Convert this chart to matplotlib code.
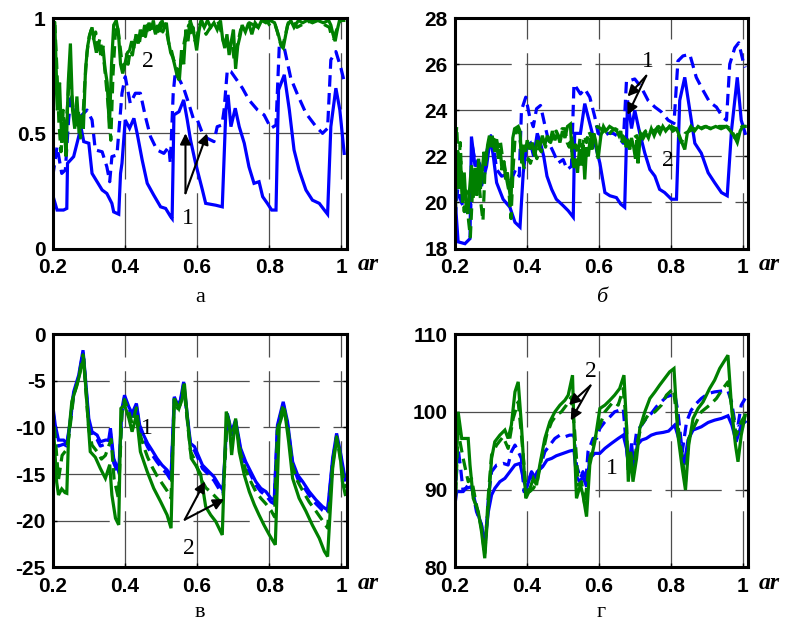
import numpy as np
import matplotlib
matplotlib.use("Agg")
import matplotlib.pyplot as plt

plt.rcParams["axes.unicode_minus"] = False

# ---- data (x = ar) ------------------------------------------------------
# panel а
A_BLUE_SOLID = [
    (0.200, 0.232), (0.212, 0.167), (0.230, 0.167), (0.239, 0.174), (0.241, 0.370),
    (0.258, 0.399), (0.272, 0.486), (0.278, 0.529), (0.286, 0.464), (0.300, 0.457),
    (0.309, 0.326), (0.323, 0.290), (0.337, 0.254), (0.350, 0.239), (0.364, 0.196),
    (0.369, 0.159), (0.383, 0.149), (0.388, 0.326), (0.392, 0.370), (0.401, 0.558),
    (0.413, 0.522), (0.425, 0.565), (0.434, 0.500), (0.448, 0.384), (0.462, 0.283),
    (0.480, 0.232), (0.499, 0.181), (0.513, 0.174), (0.527, 0.138), (0.531, 0.130),
    (0.536, 0.580), (0.550, 0.594), (0.563, 0.645), (0.573, 0.558), (0.582, 0.471),
    (0.596, 0.370), (0.615, 0.254), (0.624, 0.196), (0.652, 0.188), (0.670, 0.181),
    (0.680, 0.601), (0.686, 0.667), (0.694, 0.529), (0.706, 0.609), (0.717, 0.529),
    (0.731, 0.457), (0.744, 0.355), (0.758, 0.283), (0.772, 0.290), (0.782, 0.225),
    (0.795, 0.196), (0.807, 0.167), (0.819, 0.167), (0.826, 0.688), (0.842, 0.754),
    (0.856, 0.601), (0.869, 0.428), (0.883, 0.341), (0.902, 0.254), (0.920, 0.210),
    (0.939, 0.196), (0.953, 0.167), (0.962, 0.149), (0.971, 0.529), (0.985, 0.696),
    (0.996, 0.601), (1.008, 0.413),
]
A_BLUE_DASH = [
    (0.200, 0.312), (0.212, 0.442), (0.225, 0.326), (0.235, 0.341), (0.244, 0.558),
    (0.250, 0.652), (0.263, 0.558), (0.276, 0.572), (0.295, 0.601), (0.309, 0.558),
    (0.318, 0.428), (0.337, 0.420), (0.350, 0.355), (0.358, 0.290), (0.364, 0.399),
    (0.378, 0.406), (0.392, 0.674), (0.401, 0.746), (0.415, 0.630), (0.429, 0.674),
    (0.443, 0.674), (0.457, 0.572), (0.471, 0.486), (0.489, 0.428), (0.508, 0.413),
    (0.522, 0.442), (0.526, 0.370), (0.534, 0.674), (0.540, 0.768), (0.554, 0.725),
    (0.563, 0.696), (0.577, 0.630), (0.591, 0.558), (0.601, 0.558), (0.615, 0.500),
    (0.629, 0.478), (0.647, 0.464), (0.656, 0.529), (0.669, 0.536), (0.675, 0.601),
    (0.684, 0.775), (0.694, 0.768), (0.707, 0.739), (0.726, 0.696), (0.744, 0.645),
    (0.768, 0.601), (0.786, 0.580), (0.805, 0.522), (0.819, 0.536), (0.828, 0.877),
    (0.842, 0.870), (0.860, 0.739), (0.879, 0.667), (0.902, 0.587), (0.930, 0.529),
    (0.948, 0.500), (0.962, 0.522), (0.971, 0.819), (0.985, 0.855), (0.999, 0.783),
    (1.008, 0.725),
]
A_GREEN_SOLID = [
    (0.200, 0.41), (0.206, 0.97), (0.213, 0.60), (0.219, 0.72), (0.225, 0.46),
    (0.231, 0.55), (0.237, 0.40), (0.243, 0.72), (0.249, 0.89), (0.255, 0.60),
    (0.261, 0.52), (0.267, 0.66), (0.273, 0.50), (0.279, 0.58), (0.285, 0.52),
    (0.291, 0.78), (0.297, 0.88), (0.303, 0.93), (0.309, 0.96), (0.315, 0.90),
    (0.321, 0.85), (0.327, 0.90), (0.333, 0.84), (0.339, 0.88), (0.345, 0.78),
    (0.351, 0.72), (0.357, 0.52), (0.363, 0.80), (0.369, 0.97), (0.376, 0.99),
    (0.382, 0.94), (0.388, 0.80), (0.394, 0.76), (0.400, 0.80), (0.407, 0.85),
    (0.413, 0.86), (0.419, 0.90), (0.425, 0.87), (0.431, 0.93), (0.437, 0.89),
    (0.443, 0.95), (0.449, 0.92), (0.455, 0.97), (0.461, 0.94), (0.467, 0.98),
    (0.473, 0.95), (0.479, 0.99), (0.485, 0.93), (0.491, 0.97), (0.497, 0.94),
    (0.503, 0.99), (0.509, 0.96), (0.515, 0.98), (0.521, 0.90), (0.527, 0.85),
    (0.533, 0.83), (0.539, 0.79), (0.545, 0.75), (0.551, 0.73), (0.557, 0.86),
    (0.563, 0.80), (0.569, 0.95), (0.575, 0.90), (0.581, 0.99), (0.587, 0.96),
    (0.593, 0.92), (0.599, 0.86), (0.605, 0.94), (0.611, 0.99), (0.620, 0.96),
    (0.629, 0.99), (0.638, 0.96), (0.647, 0.98), (0.656, 0.95), (0.665, 0.99),
    (0.671, 0.91), (0.677, 0.87), (0.683, 0.93), (0.689, 0.84), (0.695, 0.90),
    (0.701, 0.95), (0.707, 0.78), (0.713, 0.88), (0.719, 0.92), (0.725, 0.97),
    (0.734, 0.94), (0.743, 0.98), (0.752, 0.93), (0.761, 0.98), (0.770, 0.96),
    (0.779, 0.99), (0.791, 0.98), (0.803, 0.99), (0.815, 0.98), (0.821, 0.95),
    (0.827, 0.92), (0.833, 0.88), (0.839, 0.87), (0.845, 0.92), (0.851, 0.97),
    (0.860, 0.99), (0.869, 0.96), (0.881, 0.99), (0.893, 0.98), (0.905, 0.99),
    (0.920, 0.98), (0.935, 0.99), (0.950, 0.98), (0.965, 0.99), (0.971, 0.97),
    (0.977, 0.93), (0.983, 0.90), (0.989, 0.95), (0.995, 0.99), (1.007, 0.99),
]
A_GREEN_DASH = [
    (0.200, 0.55), (0.205, 1.00), (0.211, 0.80), (0.217, 0.55), (0.223, 0.42),
    (0.229, 0.60), (0.235, 0.50), (0.241, 0.62), (0.247, 0.78), (0.253, 0.66),
    (0.259, 0.58), (0.265, 0.52), (0.271, 0.60), (0.277, 0.48), (0.283, 0.55),
    (0.289, 0.72), (0.295, 0.85), (0.301, 0.92), (0.307, 0.95), (0.313, 0.91),
    (0.319, 0.94), (0.325, 0.88), (0.331, 0.91), (0.337, 0.85), (0.343, 0.80),
    (0.349, 0.70), (0.355, 0.60), (0.361, 0.47), (0.367, 0.75), (0.373, 0.92),
    (0.379, 0.97), (0.385, 0.90), (0.391, 0.82), (0.397, 0.78), (0.403, 0.82),
    (0.409, 0.80), (0.415, 0.86), (0.421, 0.84), (0.427, 0.90), (0.433, 0.92),
    (0.439, 0.88), (0.445, 0.94), (0.451, 0.96), (0.457, 0.92), (0.463, 0.97),
    (0.469, 0.95), (0.475, 0.99), (0.481, 0.96), (0.487, 0.92), (0.493, 0.96),
    (0.499, 0.98), (0.505, 0.94), (0.511, 0.97), (0.517, 0.93), (0.523, 0.88),
    (0.529, 0.86), (0.535, 0.82), (0.541, 0.80), (0.547, 0.76), (0.553, 0.80),
    (0.559, 0.84), (0.565, 0.90), (0.571, 0.94), (0.577, 0.97), (0.583, 0.92),
    (0.589, 0.96), (0.595, 0.90), (0.601, 0.93), (0.607, 0.97), (0.613, 0.99),
    (0.625, 0.93), (0.637, 0.96), (0.649, 0.97), (0.661, 0.98), (0.673, 0.90),
    (0.685, 0.88), (0.697, 0.89), (0.703, 0.82), (0.709, 0.86), (0.721, 0.95),
    (0.733, 0.97), (0.745, 0.98), (0.757, 0.97), (0.769, 0.96), (0.781, 0.99),
    (0.793, 0.99), (0.805, 0.96), (0.817, 0.97), (0.823, 0.94), (0.829, 0.90),
    (0.835, 0.88), (0.841, 0.90), (0.853, 0.98), (0.865, 0.99), (0.877, 0.96),
    (0.889, 0.97), (0.901, 0.98), (0.919, 0.99), (0.937, 0.99), (0.955, 0.97),
    (0.967, 0.96), (0.973, 0.92), (0.979, 0.91), (0.985, 0.94), (0.997, 0.99),
    (1.009, 1.00),
]

# panel б
B_BLUE_SOLID = [
    (0.200, 20.29), (0.209, 18.29), (0.228, 18.21), (0.242, 18.43), (0.246, 22.86),
    (0.256, 21.57), (0.265, 21.86), (0.274, 20.71), (0.288, 21.57), (0.299, 22.86),
    (0.308, 21.86), (0.316, 20.86), (0.334, 20.14), (0.353, 19.79), (0.367, 19.14),
    (0.381, 18.93), (0.390, 21.29), (0.399, 22.43), (0.410, 22.57), (0.419, 22.00),
    (0.429, 23.00), (0.438, 22.57), (0.447, 22.00), (0.456, 21.14), (0.469, 20.57),
    (0.482, 20.14), (0.501, 19.86), (0.515, 19.64), (0.529, 19.36), (0.533, 23.00),
    (0.549, 23.00), (0.561, 24.29), (0.575, 23.43), (0.589, 22.57), (0.603, 21.71),
    (0.617, 20.43), (0.631, 20.29), (0.649, 20.21), (0.661, 19.93), (0.672, 19.79),
    (0.680, 24.43), (0.691, 23.21), (0.700, 24.00), (0.714, 23.00), (0.728, 22.14),
    (0.742, 21.43), (0.756, 21.14), (0.769, 20.57), (0.783, 20.43), (0.802, 20.14),
    (0.816, 20.14), (0.825, 24.43), (0.839, 25.43), (0.853, 24.00), (0.867, 22.57),
    (0.885, 22.14), (0.904, 21.29), (0.922, 20.86), (0.941, 20.43), (0.957, 20.29),
    (0.969, 23.14), (0.985, 25.43), (0.996, 23.57), (1.007, 23.00),
]
B_BLUE_DASH = [
    (0.200, 19.3), (0.208, 20.6), (0.218, 20.0), (0.232, 19.6), (0.244, 19.7),
    (0.248, 22.5), (0.258, 21.6), (0.268, 21.7), (0.278, 21.3), (0.290, 22.3),
    (0.300, 22.9), (0.308, 22.4), (0.316, 21.43), (0.330, 21.14), (0.344, 21.21),
    (0.357, 21.00), (0.369, 21.43), (0.379, 21.14), (0.385, 24.00), (0.397, 24.57),
    (0.408, 23.71), (0.418, 23.29), (0.427, 24.07), (0.438, 24.21), (0.450, 23.36),
    (0.462, 22.57), (0.475, 22.14), (0.487, 21.71), (0.501, 21.86), (0.512, 21.43),
    (0.524, 21.57), (0.531, 25.14), (0.540, 24.93), (0.549, 24.71), (0.561, 24.93),
    (0.575, 24.57), (0.589, 23.71), (0.598, 23.00), (0.612, 22.86), (0.626, 23.00),
    (0.640, 23.00), (0.654, 22.86), (0.668, 22.57), (0.677, 25.29), (0.686, 25.29),
    (0.700, 25.36), (0.718, 25.00), (0.737, 24.43), (0.756, 24.14), (0.774, 23.93),
    (0.793, 23.57), (0.809, 23.43), (0.820, 26.14), (0.834, 26.36), (0.853, 26.43),
    (0.871, 25.43), (0.890, 24.86), (0.908, 24.36), (0.927, 24.14), (0.944, 23.71),
    (0.955, 23.57), (0.964, 26.00), (0.978, 26.71), (0.989, 26.93), (1.001, 26.14),
    (1.007, 25.86),
]
B_GREEN_SOLID = [
    (0.200, 18.3), (0.204, 21.5), (0.208, 22.2), (0.212, 20.6), (0.216, 21.8),
    (0.221, 20.0), (0.226, 21.3), (0.231, 19.9), (0.236, 19.5), (0.241, 20.6),
    (0.246, 21.6), (0.251, 20.2), (0.256, 21.5), (0.261, 20.3), (0.266, 21.9),
    (0.271, 20.6), (0.276, 21.4), (0.281, 22.2), (0.286, 21.8), (0.291, 22.5),
    (0.296, 22.9), (0.301, 22.4), (0.306, 22.7), (0.311, 22.2), (0.316, 22.6),
    (0.321, 21.9), (0.326, 22.3), (0.331, 21.4), (0.336, 21.8), (0.341, 21.0),
    (0.346, 21.3), (0.351, 20.6), (0.356, 20.0), (0.361, 22.8), (0.366, 23.2),
    (0.376, 23.3), (0.381, 23.1), (0.386, 21.7), (0.391, 22.5), (0.396, 22.2),
    (0.401, 22.7), (0.408, 22.3), (0.415, 22.6), (0.422, 22.0), (0.429, 22.7),
    (0.436, 22.4), (0.443, 22.9), (0.450, 22.5), (0.457, 22.9), (0.464, 22.6),
    (0.471, 23.1), (0.478, 22.7), (0.485, 23.0), (0.492, 22.6), (0.499, 23.1),
    (0.506, 22.8), (0.513, 23.3), (0.521, 23.4), (0.526, 22.0), (0.531, 21.5),
    (0.536, 21.9), (0.541, 21.3), (0.546, 22.3), (0.551, 21.6), (0.556, 22.5),
    (0.561, 21.0), (0.566, 22.4), (0.571, 22.0), (0.576, 22.8), (0.581, 22.3),
    (0.586, 23.0), (0.591, 22.7), (0.598, 21.9), (0.606, 22.9), (0.613, 23.3),
    (0.620, 23.1), (0.630, 23.3), (0.640, 23.2), (0.650, 23.1), (0.656, 22.9),
    (0.661, 23.1), (0.666, 22.6), (0.671, 22.8), (0.676, 22.4), (0.682, 22.6),
    (0.686, 22.3), (0.691, 22.8), (0.697, 22.4), (0.702, 21.9), (0.706, 22.7),
    (0.709, 21.7), (0.716, 23.0), (0.724, 22.8), (0.731, 23.0), (0.738, 22.8),
    (0.746, 23.2), (0.754, 22.9), (0.762, 23.2), (0.770, 23.0), (0.778, 23.3),
    (0.786, 23.1), (0.796, 23.3), (0.806, 23.1), (0.816, 23.2), (0.824, 22.9),
    (0.831, 22.6), (0.839, 22.3), (0.846, 23.0), (0.856, 23.3), (0.866, 23.1),
    (0.876, 23.3), (0.886, 23.2), (0.898, 23.3), (0.910, 23.2), (0.925, 23.3),
    (0.940, 23.2), (0.955, 23.3), (0.966, 23.1), (0.976, 22.9), (0.985, 22.6),
    (0.993, 23.1), (1.000, 23.3), (1.007, 23.3),
]
B_GREEN_DASH = [
    (0.200, 22.0), (0.205, 23.3), (0.210, 21.5), (0.215, 22.6), (0.220, 20.5),
    (0.226, 19.6), (0.232, 20.5), (0.238, 19.2), (0.243, 18.5), (0.248, 20.2),
    (0.254, 21.2), (0.260, 20.3), (0.266, 21.0), (0.272, 20.0), (0.278, 19.2),
    (0.284, 21.5), (0.290, 22.3), (0.296, 22.6), (0.302, 23.0), (0.308, 22.6),
    (0.314, 22.9), (0.320, 22.4), (0.326, 22.7), (0.332, 22.0), (0.338, 21.6),
    (0.344, 21.0), (0.350, 20.5), (0.356, 19.3), (0.362, 21.5), (0.368, 23.0),
    (0.374, 23.2), (0.380, 22.9), (0.386, 22.0), (0.392, 21.5), (0.398, 21.6),
    (0.404, 21.9), (0.410, 21.7), (0.416, 22.0), (0.422, 22.2), (0.428, 21.9),
    (0.434, 22.4), (0.440, 22.2), (0.446, 22.7), (0.452, 22.4), (0.458, 22.8),
    (0.466, 22.6), (0.474, 23.0), (0.482, 23.1), (0.490, 22.8), (0.498, 23.2),
    (0.506, 23.2), (0.512, 22.6), (0.518, 22.4), (0.524, 22.9), (0.530, 22.2),
    (0.536, 22.5), (0.542, 22.1), (0.548, 22.8), (0.554, 22.4), (0.560, 22.9),
    (0.566, 22.6), (0.572, 23.1), (0.580, 22.8), (0.588, 23.2), (0.596, 23.3),
    (0.606, 23.2), (0.616, 23.0), (0.626, 22.9), (0.636, 23.1), (0.646, 23.2),
    (0.656, 23.1), (0.666, 22.9), (0.676, 22.7), (0.686, 22.6), (0.696, 22.8),
    (0.706, 22.9), (0.712, 22.5), (0.720, 22.9), (0.730, 23.1), (0.742, 23.2),
    (0.754, 23.1), (0.766, 23.3), (0.778, 23.1), (0.790, 23.2), (0.802, 23.3),
    (0.814, 23.2), (0.822, 22.9), (0.830, 22.6), (0.840, 23.0), (0.852, 23.1),
    (0.866, 23.2), (0.880, 23.2), (0.895, 23.3), (0.915, 23.2), (0.935, 23.3),
    (0.955, 23.3), (0.968, 23.2), (0.978, 22.8), (0.988, 23.0), (0.998, 23.3),
    (1.009, 23.3),
]

# panel в
C_BLUE_SOLID = [
    (0.200, -7.61), (0.207, -9.75), (0.216, -11.36), (0.230, -11.36), (0.239, -11.71),
    (0.247, -9.75), (0.258, -6.18), (0.272, -4.39), (0.284, -1.71), (0.290, -4.39),
    (0.300, -9.04), (0.309, -10.46), (0.323, -10.82), (0.332, -11.54), (0.346, -11.36),
    (0.355, -11.36), (0.360, -10.11), (0.369, -13.32), (0.383, -14.75), (0.392, -7.96),
    (0.399, -6.54), (0.411, -7.79), (0.420, -8.50), (0.432, -7.43), (0.441, -9.75),
    (0.452, -10.82), (0.463, -11.71), (0.475, -12.43), (0.489, -13.32), (0.503, -14.04),
    (0.517, -14.57), (0.528, -15.29), (0.537, -6.71), (0.547, -7.61), (0.554, -7.07),
    (0.563, -5.11), (0.573, -8.68), (0.582, -11.71), (0.593, -12.07), (0.605, -13.14),
    (0.615, -14.04), (0.633, -14.75), (0.647, -15.29), (0.661, -16.18), (0.672, -16.71),
    (0.684, -8.50), (0.696, -10.46), (0.707, -9.21), (0.721, -12.25), (0.735, -13.68),
    (0.749, -14.75), (0.763, -15.82), (0.777, -16.54), (0.791, -16.89), (0.805, -17.61),
    (0.814, -17.79), (0.823, -9.75), (0.839, -7.25), (0.851, -9.39), (0.865, -13.68),
    (0.879, -15.11), (0.893, -15.82), (0.911, -16.89), (0.930, -17.79), (0.948, -18.50),
    (0.962, -18.86), (0.976, -13.32), (0.987, -10.64), (0.999, -12.96), (1.011, -15.64),
]
C_BLUE_DASH = [
    (0.200, -8.0), (0.207, -10.2), (0.216, -12.0), (0.230, -11.8), (0.239, -12.0),
    (0.247, -10.0), (0.258, -6.4), (0.272, -4.6), (0.284, -1.9), (0.290, -4.7),
    (0.300, -9.5), (0.309, -10.9), (0.323, -11.3), (0.332, -12.0), (0.346, -11.8),
    (0.355, -11.7), (0.360, -10.6), (0.369, -13.8), (0.383, -15.1), (0.392, -8.3),
    (0.399, -6.8), (0.411, -8.0), (0.420, -8.8), (0.432, -7.7), (0.441, -10.1),
    (0.452, -11.2), (0.463, -12.1), (0.475, -12.9), (0.489, -13.7), (0.503, -14.4),
    (0.517, -15.0), (0.528, -15.7), (0.537, -6.9), (0.547, -7.9), (0.554, -7.3),
    (0.563, -5.3), (0.573, -9.0), (0.582, -12.0), (0.593, -12.5), (0.605, -13.5),
    (0.615, -14.4), (0.633, -15.1), (0.647, -15.7), (0.661, -16.6), (0.672, -17.1),
    (0.684, -8.7), (0.696, -10.8), (0.707, -9.4), (0.721, -12.6), (0.735, -14.0),
    (0.749, -15.1), (0.763, -16.2), (0.777, -16.9), (0.791, -17.3), (0.805, -18.0),
    (0.814, -18.2), (0.823, -10.0), (0.839, -7.5), (0.851, -9.7), (0.865, -14.0),
    (0.879, -15.5), (0.893, -16.2), (0.911, -17.3), (0.930, -18.2), (0.948, -18.9),
    (0.962, -19.2), (0.976, -13.6), (0.987, -10.9), (0.999, -13.3), (1.011, -16.0),
]
C_GREEN_SOLID = [
    (0.200, -8.68), (0.211, -15.9), (0.216, -17.25), (0.225, -16.6), (0.234, -17.0),
    (0.239, -17.07), (0.244, -10.8), (0.253, -7.2), (0.267, -5.5), (0.281, -3.3),
    (0.286, -2.6), (0.295, -7.6), (0.304, -12.6), (0.318, -13.2), (0.332, -14.4),
    (0.346, -15.46), (0.358, -14.0), (0.364, -17.25), (0.374, -19.75), (0.383, -20.46),
    (0.389, -7.96), (0.399, -7.6), (0.411, -9.0), (0.420, -10.46), (0.432, -8.68),
    (0.443, -12.6), (0.462, -14.75), (0.480, -16.54), (0.499, -17.96), (0.517, -19.39),
    (0.528, -20.82), (0.537, -6.9), (0.550, -7.96), (0.559, -6.9), (0.565, -5.29),
    (0.575, -9.75), (0.584, -13.32), (0.596, -14.04), (0.610, -15.0), (0.624, -18.5),
    (0.638, -19.4), (0.652, -20.1), (0.661, -20.82), (0.670, -21.54), (0.681, -8.3),
    (0.689, -9.4), (0.696, -12.96), (0.707, -9.04), (0.717, -12.6), (0.731, -15.1),
    (0.745, -16.9), (0.759, -18.3), (0.772, -19.4), (0.786, -20.5), (0.800, -21.5),
    (0.817, -22.6), (0.828, -9.75), (0.842, -7.96), (0.854, -11.5), (0.865, -15.46),
    (0.883, -17.6), (0.902, -19.0), (0.920, -20.5), (0.939, -21.9), (0.953, -23.3),
    (0.962, -23.86), (0.976, -14.4), (0.987, -11.2), (0.996, -12.6), (1.003, -15.8),
    (1.011, -17.2),
]
C_GREEN_DASH = [
    (0.200, -8.0), (0.207, -11.0), (0.216, -15.6), (0.226, -13.0), (0.236, -12.5),
    (0.245, -11.0), (0.258, -6.6), (0.272, -4.7), (0.284, -2.2), (0.290, -5.0),
    (0.300, -10.2), (0.309, -11.9), (0.323, -12.6), (0.335, -13.4), (0.346, -13.0),
    (0.355, -12.0), (0.362, -11.3), (0.370, -15.5), (0.382, -17.6), (0.392, -8.5),
    (0.399, -7.0), (0.411, -8.3), (0.420, -9.6), (0.432, -7.9), (0.441, -10.6),
    (0.452, -12.0), (0.463, -13.2), (0.475, -14.2), (0.489, -15.2), (0.503, -16.0),
    (0.517, -16.8), (0.528, -17.6), (0.537, -7.0), (0.547, -8.0), (0.554, -7.5),
    (0.563, -5.5), (0.573, -9.2), (0.582, -12.6), (0.595, -13.6), (0.610, -15.5),
    (0.625, -16.5), (0.640, -17.0), (0.655, -17.6), (0.665, -18.0), (0.672, -17.8),
    (0.684, -8.7), (0.694, -11.0), (0.707, -9.4), (0.721, -12.8), (0.735, -14.6),
    (0.749, -15.8), (0.763, -16.9), (0.777, -17.6), (0.791, -18.2), (0.805, -18.9),
    (0.815, -19.6), (0.823, -10.2), (0.839, -7.6), (0.851, -9.8), (0.865, -14.2),
    (0.879, -15.8), (0.893, -16.8), (0.911, -18.0), (0.930, -19.0), (0.948, -20.0),
    (0.962, -20.8), (0.976, -14.0), (0.987, -11.0), (0.999, -13.8), (1.011, -16.5),
]

# panel г
D_BLUE_SOLID = [
    (0.200, 88.01), (0.205, 89.73), (0.219, 89.73), (0.232, 90.15), (0.246, 90.37),
    (0.256, 88.44), (0.265, 86.73), (0.274, 85.44), (0.283, 82.87), (0.293, 87.15),
    (0.302, 89.30), (0.311, 90.15), (0.325, 91.01), (0.339, 91.44), (0.353, 92.30),
    (0.367, 93.16), (0.381, 93.37), (0.392, 91.01), (0.399, 90.15), (0.411, 91.87),
    (0.419, 91.23), (0.429, 92.30), (0.444, 92.94), (0.456, 93.80), (0.469, 94.01),
    (0.482, 94.35), (0.501, 94.66), (0.519, 94.96), (0.531, 95.08), (0.538, 91.65),
    (0.547, 91.01), (0.556, 91.65), (0.566, 90.37), (0.575, 94.01), (0.589, 94.66),
    (0.603, 94.66), (0.617, 95.30), (0.635, 95.94), (0.654, 96.58), (0.668, 97.01),
    (0.677, 95.30), (0.683, 92.73), (0.691, 95.94), (0.698, 92.73), (0.707, 95.73),
    (0.719, 96.37), (0.732, 96.58), (0.746, 97.01), (0.760, 97.23), (0.779, 97.36),
    (0.794, 97.53), (0.811, 98.30), (0.825, 96.16), (0.837, 93.16), (0.848, 96.37),
    (0.862, 97.66), (0.885, 98.08), (0.904, 98.64), (0.922, 98.94), (0.941, 99.16),
    (0.959, 99.50), (0.970, 98.30), (0.982, 96.16), (0.996, 98.30), (1.007, 98.73),
]
D_BLUE_DASH = [
    (0.200, 88.87), (0.209, 95.30), (0.216, 92.73), (0.223, 89.73), (0.237, 90.58),
    (0.246, 90.58), (0.260, 87.15), (0.274, 85.44), (0.283, 82.01), (0.293, 88.87),
    (0.302, 92.30), (0.316, 93.16), (0.334, 93.37), (0.348, 93.16), (0.357, 94.87),
    (0.367, 95.73), (0.376, 94.87), (0.385, 94.01), (0.392, 89.73), (0.401, 90.58),
    (0.413, 92.30), (0.425, 91.44), (0.436, 92.73), (0.450, 94.87), (0.464, 95.73),
    (0.478, 96.58), (0.492, 97.01), (0.506, 96.80), (0.519, 97.01), (0.531, 97.01),
    (0.538, 93.16), (0.549, 91.44), (0.556, 92.30), (0.564, 91.01), (0.570, 94.87),
    (0.584, 96.58), (0.594, 96.58), (0.603, 97.87), (0.617, 98.73), (0.631, 99.37),
    (0.644, 100.01), (0.658, 100.23), (0.668, 100.44), (0.674, 97.01), (0.682, 93.16),
    (0.689, 94.87), (0.695, 94.01), (0.705, 97.44), (0.719, 98.30), (0.732, 99.16),
    (0.746, 99.80), (0.760, 100.66), (0.774, 101.30), (0.788, 101.94), (0.802, 102.16),
    (0.811, 102.37), (0.820, 100.01), (0.832, 94.87), (0.844, 98.73), (0.857, 100.23),
    (0.871, 101.08), (0.885, 101.73), (0.904, 102.37), (0.922, 102.58), (0.945, 102.71),
    (0.959, 102.71), (0.969, 101.30), (0.978, 98.73), (0.987, 98.30), (0.996, 100.87),
    (1.007, 101.73),
]
D_GREEN_SOLID = [
    (0.200, 86.73), (0.209, 100.01), (0.219, 96.58), (0.237, 96.58), (0.242, 93.16),
    (0.251, 88.87), (0.265, 87.15), (0.274, 84.58), (0.283, 81.15), (0.293, 88.01),
    (0.302, 94.01), (0.311, 96.16), (0.325, 97.01), (0.339, 97.66), (0.348, 96.58),
    (0.357, 98.30), (0.367, 102.58), (0.376, 103.87), (0.385, 98.30), (0.392, 92.73),
    (0.397, 88.87), (0.406, 89.73), (0.418, 91.44), (0.427, 90.58), (0.436, 93.16),
    (0.450, 96.58), (0.464, 98.73), (0.478, 100.01), (0.492, 100.87), (0.506, 101.51),
    (0.515, 102.16), (0.527, 104.73), (0.533, 94.87), (0.538, 88.87), (0.549, 90.58),
    (0.556, 89.30), (0.566, 86.51), (0.575, 93.16), (0.589, 96.16), (0.603, 100.44),
    (0.617, 100.87), (0.631, 101.51), (0.644, 102.16), (0.658, 103.01), (0.670, 104.73),
    (0.677, 98.30), (0.682, 91.01), (0.689, 94.87), (0.695, 91.01), (0.705, 94.01),
    (0.714, 97.87), (0.728, 100.01), (0.742, 101.73), (0.756, 102.58), (0.769, 103.44),
    (0.783, 104.30), (0.797, 105.16), (0.809, 105.59), (0.820, 97.01), (0.832, 92.73),
    (0.841, 89.94), (0.850, 95.73), (0.862, 99.16), (0.876, 100.44), (0.890, 101.30),
    (0.908, 103.01), (0.922, 104.09), (0.936, 105.59), (0.959, 107.30), (0.970, 100.01),
    (0.980, 95.73), (0.987, 93.58), (0.996, 97.01), (1.007, 99.58),
]
D_GREEN_DASH = [
    (0.200, 87.15), (0.209, 97.44), (0.223, 94.01), (0.237, 91.01), (0.246, 91.44),
    (0.260, 88.01), (0.274, 85.01), (0.283, 81.58), (0.293, 89.30), (0.302, 94.44),
    (0.316, 95.73), (0.334, 96.80), (0.348, 95.30), (0.362, 99.16), (0.376, 101.30),
    (0.385, 97.01), (0.397, 90.58), (0.408, 89.73), (0.418, 90.15), (0.429, 91.01),
    (0.441, 94.01), (0.455, 97.01), (0.469, 98.73), (0.482, 99.58), (0.496, 100.01),
    (0.510, 100.87), (0.524, 101.94), (0.533, 97.44), (0.543, 90.58), (0.552, 91.01),
    (0.561, 88.01), (0.575, 94.01), (0.589, 96.58), (0.603, 98.30), (0.617, 100.01),
    (0.640, 101.30), (0.654, 100.87), (0.668, 103.01), (0.677, 98.30), (0.682, 91.87),
    (0.689, 94.44), (0.695, 91.87), (0.705, 95.73), (0.719, 98.30), (0.737, 99.58),
    (0.756, 100.01), (0.774, 100.87), (0.788, 102.16), (0.807, 103.01), (0.820, 98.30),
    (0.832, 94.01), (0.841, 91.01), (0.850, 96.58), (0.867, 98.30), (0.885, 100.01),
    (0.908, 100.87), (0.927, 101.73), (0.945, 103.01), (0.959, 103.87), (0.970, 100.44),
    (0.982, 97.01), (0.996, 98.73), (1.007, 99.58),
]

PANELS = {
    "а": dict(series=(A_BLUE_DASH, A_BLUE_SOLID, A_GREEN_DASH, A_GREEN_SOLID),
              ylim=(0, 1), yticks=[0, 0.5, 1], yticklabels=["0", "0.5", "1"]),
    "б": dict(series=(B_BLUE_DASH, B_BLUE_SOLID, B_GREEN_DASH, B_GREEN_SOLID),
              ylim=(18, 28), yticks=[18, 20, 22, 24, 26, 28],
              yticklabels=["18", "20", "22", "24", "26", "28"]),
    "в": dict(series=(C_BLUE_DASH, C_BLUE_SOLID, C_GREEN_DASH, C_GREEN_SOLID),
              ylim=(-25, 0), yticks=[-25, -20, -15, -10, -5, 0],
              yticklabels=["-25", "-20", "-15", "-10", "-5", "0"]),
    "г": dict(series=(D_BLUE_DASH, D_BLUE_SOLID, D_GREEN_DASH, D_GREEN_SOLID),
              ylim=(80, 110), yticks=[80, 90, 100, 110],
              yticklabels=["80", "90", "100", "110"]),
}
XTICKS = [0.2, 0.4, 0.6, 0.8, 1.0]
XTICKLABELS = ["0.2", "0.4", "0.6", "0.8", "1"]

# annotation callouts: label, text position, arrow start, arrow tips
NOTES = {
    "а": [("1", (0.576, 0.13), (0.568, 0.24), [(0.568, 0.50), (0.628, 0.50)]),
          ("2", (0.465, 0.81), None, [])],
    "б": [("1", (0.737, 26.1), (0.732, 25.5), [(0.680, 24.6), (0.680, 23.8)]),
          ("2", (0.793, 21.8), None, [])],
    "в": [("1", (0.462, -10.1), None, []),
          ("2", (0.577, -23.0), (0.566, -19.9), [(0.622, -15.8), (0.675, -17.7)])],
    "г": [("2", (0.577, 105.2), (0.577, 103.4), [(0.517, 100.9), (0.522, 98.9)]),
          ("1", (0.636, 92.7), None, [])],
}

BLUE, GREEN = "#0000ff", "#008000"
STYLES = [(BLUE, "--"), (BLUE, "-"), (GREEN, "--"), (GREEN, "-")]

fig = plt.figure(figsize=(7.87, 6.26), dpi=100)
boxes = {"а": [0.067, 0.603, 0.374, 0.368], "б": [0.578, 0.603, 0.373, 0.368],
         "в": [0.067, 0.094, 0.374, 0.372], "г": [0.578, 0.094, 0.373, 0.372]}
caption_y = {"а": 0.524, "б": 0.524, "в": 0.022, "г": 0.022}

for key, p in PANELS.items():
    ax = fig.add_axes(boxes[key])
    for pts, (c, ls) in zip(p["series"], STYLES):
        xy = np.array(pts).T
        line, = ax.plot(xy[0], xy[1], color=c, lw=2.3, ls=ls, solid_joinstyle="miter")
        if ls == "--":
            line.set_dashes((3.6, 2.0))
    ax.set_xlim(0.2, 1.016)
    ax.set_ylim(*p["ylim"])
    ax.set_xticks(XTICKS)
    ax.set_xticklabels(XTICKLABELS)
    ax.set_yticks(p["yticks"])
    ax.set_yticklabels(p["yticklabels"])
    ax.grid(True, color="0.3", lw=0.9, ls=(0, (45, 11)))
    ax.set_axisbelow(True)
    for s in ax.spines.values():
        s.set_linewidth(2.2)
    ax.tick_params(direction="in", length=3, width=1, right=True, top=False,
                   labelsize=15)
    ax.tick_params(axis="x", pad=7)
    ax.tick_params(axis="y", pad=5)
    for lab in ax.get_xticklabels() + ax.get_yticklabels():
        lab.set_fontweight("bold")
        lab.set_fontfamily("Liberation Sans")
    ax.text(1.035, -0.025, "ar", transform=ax.transAxes, ha="left", va="top",
            fontsize=17, fontweight="bold", fontstyle="italic",
            family="Liberation Serif")

    for label, tpos, start, tips in NOTES[key]:
        ax.text(*tpos, label, ha="center", va="center", fontsize=17,
                family="Liberation Serif")
        for tip in tips:
            ax.annotate("", xy=tip, xytext=start,
                        arrowprops=dict(arrowstyle="-|>", color="k", lw=1.5,
                                        mutation_scale=16, shrinkA=0, shrinkB=0))

    left, _, width, _ = boxes[key]
    fig.text(left + width * 0.5, caption_y[key], key, ha="center", va="center",
             fontsize=16, family="Liberation Serif",
             fontstyle="italic" if key == "б" else "normal")

fig.savefig("out.png", dpi=100)
